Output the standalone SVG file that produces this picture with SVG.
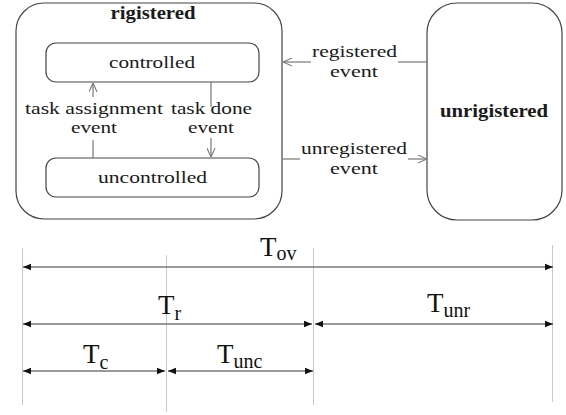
<svg xmlns="http://www.w3.org/2000/svg" width="566" height="415" viewBox="0 0 566 415">
<style>
.box{fill:#fff;stroke:#444;stroke-width:1.2}
.t{font-family:"Liberation Serif","Times New Roman",serif;font-size:17px;fill:#1a1a1a;text-anchor:middle}
.b{font-weight:bold;font-size:18px}
.c{stroke:#777;stroke-width:1.2;fill:none}
.g{stroke:#c8c8c8;stroke-width:1;fill:none}
.d{stroke:#777;stroke-width:1.3;fill:none}
.T{font-family:"Liberation Serif","Times New Roman",serif;font-size:27px;fill:#111}
.s{font-size:20px}
</style>
<defs>
<marker id="open" viewBox="0 0 10 10" refX="10" refY="5" markerWidth="9" markerHeight="9" markerUnits="userSpaceOnUse" orient="auto">
<path d="M0,0.5 L10,5 L0,9.5" fill="none" stroke="#777" stroke-width="1.2"/>
</marker>
<marker id="fill" viewBox="0 0 10 10" refX="10" refY="5" markerWidth="8" markerHeight="8" markerUnits="userSpaceOnUse" orient="auto-start-reverse">
<path d="M0,0.8 L10,5 L0,9.2 Z" fill="#111"/>
</marker>
</defs>

<g id="registered">
<rect class="box" x="16" y="3" width="266" height="216" rx="28"/>
<text class="t b" x="153" y="19" textLength="85" lengthAdjust="spacingAndGlyphs">rigistered</text>
</g>
<g id="controlled">
<rect class="box" x="46" y="43" width="213" height="39" rx="10"/>
<text class="t" x="152" y="68" textLength="86" lengthAdjust="spacingAndGlyphs">controlled</text>
</g>
<g id="uncontrolled">
<rect class="box" x="46" y="158" width="213" height="39" rx="10"/>
<text class="t" x="152.5" y="183" textLength="109" lengthAdjust="spacingAndGlyphs">uncontrolled</text>
</g>
<g id="unrigistered">
<rect class="box" x="427" y="3" width="135" height="217" rx="30"/>
<text class="t b" x="494" y="117" textLength="108" lengthAdjust="spacingAndGlyphs">unrigistered</text>
</g>

<g id="connectors">
<line class="c" x1="93" y1="158" x2="93" y2="140"/>
<line class="c" x1="93" y1="97" x2="93" y2="83" marker-end="url(#open)"/>
<text class="t" x="94" y="114" textLength="138" lengthAdjust="spacingAndGlyphs">task assignment</text>
<text class="t" x="94" y="133" textLength="46" lengthAdjust="spacingAndGlyphs">event</text>

<line class="c" x1="211" y1="82" x2="211" y2="107"/>
<line class="c" x1="211" y1="138" x2="211" y2="157" marker-end="url(#open)"/>
<text class="t" x="211.5" y="114" textLength="81" lengthAdjust="spacingAndGlyphs">task done</text>
<text class="t" x="211" y="133" textLength="46" lengthAdjust="spacingAndGlyphs">event</text>

<line class="c" x1="427" y1="62" x2="398" y2="62"/>
<line class="c" x1="311" y1="62" x2="283" y2="62" marker-end="url(#open)"/>
<text class="t" x="354.5" y="57" textLength="85" lengthAdjust="spacingAndGlyphs">registered</text>
<text class="t" x="354" y="77" textLength="48" lengthAdjust="spacingAndGlyphs">event</text>

<line class="c" x1="283" y1="159" x2="300" y2="159"/>
<line class="c" x1="408" y1="159" x2="427" y2="159" marker-end="url(#open)"/>
<text class="t" x="354" y="154" textLength="106" lengthAdjust="spacingAndGlyphs">unregistered</text>
<text class="t" x="354" y="174" textLength="48" lengthAdjust="spacingAndGlyphs">event</text>

<line class="g" x1="22.5" y1="248" x2="22.5" y2="405"/>
<line class="g" x1="166.5" y1="255" x2="166.5" y2="412"/>
<line class="g" x1="313.5" y1="248" x2="313.5" y2="405"/>
<line class="g" x1="552.5" y1="245" x2="552.5" y2="402"/>

<line class="d" x1="23" y1="267" x2="553" y2="267" marker-start="url(#fill)" marker-end="url(#fill)"/>
<line class="d" x1="23" y1="324" x2="312" y2="324" marker-start="url(#fill)" marker-end="url(#fill)"/>
<line class="d" x1="315" y1="324" x2="553" y2="324" marker-start="url(#fill)" marker-end="url(#fill)"/>
<line class="d" x1="23" y1="371" x2="165" y2="371" marker-start="url(#fill)" marker-end="url(#fill)"/>
<line class="d" x1="168" y1="371" x2="313" y2="371" marker-start="url(#fill)" marker-end="url(#fill)"/>
</g>

<g id="labels">
<text class="T" x="260" y="256">T<tspan class="s" dy="4">ov</tspan></text>
<text class="T" x="158" y="314">T<tspan class="s" dy="6">r</tspan></text>
<text class="T" x="427" y="312">T<tspan class="s" dy="5">unr</tspan></text>
<text class="T" x="83" y="363">T<tspan class="s" dy="6">c</tspan></text>
<text class="T" x="217" y="363">T<tspan class="s" dy="5">unc</tspan></text>
</g>
</svg>
